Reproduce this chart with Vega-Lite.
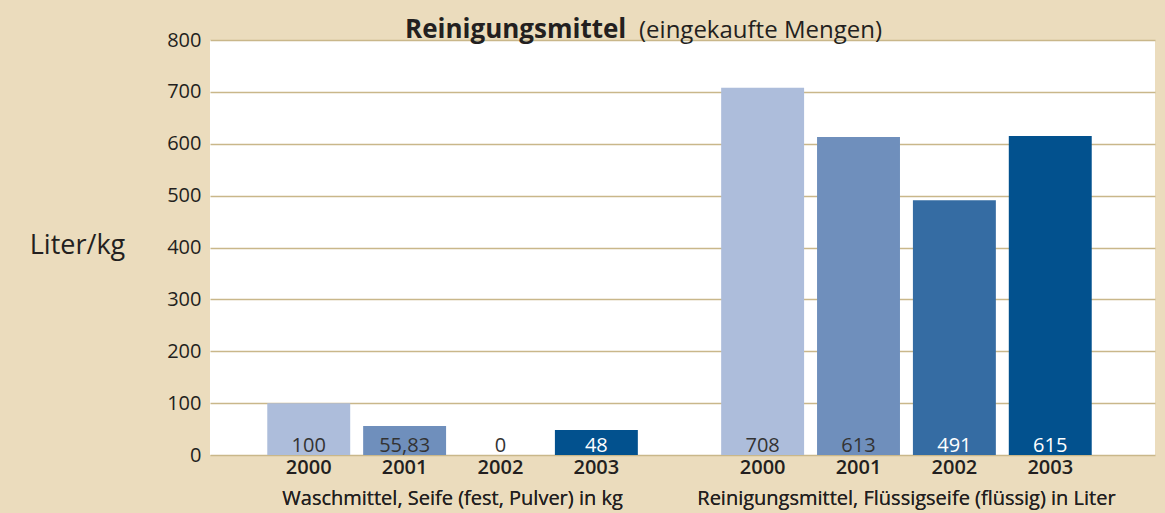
{
  "$schema": "https://vega.github.io/schema/vega-lite/v6.json",
  "width": 945,
  "height": 415,
  "autosize": {"type": "none"},
  "padding": {"left": 210, "top": 40, "right": 10, "bottom": 58},
  "background": "#ebdcbd",
  "title": {
    "text": "Reinigungsmittel",
    "anchor": "start",
    "frame": "group",
    "dx": 195,
    "font": "Open Sans",
    "fontSize": 26,
    "fontWeight": "bold",
    "color": "#231f20",
    "baseline": "alphabetic",
    "offset": -46
  },
  "data": {
    "values": [
      {"group": "Waschmittel, Seife (fest, Pulver) in kg", "year": 2000, "value": 100},
      {"group": "Waschmittel, Seife (fest, Pulver) in kg", "year": 2001, "value": 55.83},
      {"group": "Waschmittel, Seife (fest, Pulver) in kg", "year": 2002, "value": 0},
      {"group": "Waschmittel, Seife (fest, Pulver) in kg", "year": 2003, "value": 48},
      {"group": "Reinigungsmittel, Flüssigseife (flüssig) in Liter", "year": 2000, "value": 708},
      {"group": "Reinigungsmittel, Flüssigseife (flüssig) in Liter", "year": 2001, "value": 613},
      {"group": "Reinigungsmittel, Flüssigseife (flüssig) in Liter", "year": 2002, "value": 491},
      {"group": "Reinigungsmittel, Flüssigseife (flüssig) in Liter", "year": 2003, "value": 615}
    ]
  },
  "encoding": {
    "x": {
      "field": "group",
      "type": "nominal",
      "sort": ["Waschmittel, Seife (fest, Pulver) in kg", "Reinigungsmittel, Flüssigseife (flüssig) in Liter"],
      "scale": {"paddingInner": 0.154, "paddingOuter": 0.118, "align": 0.472},
      "axis": {
        "orient": "bottom",
        "title": null,
        "labelAngle": 0,
        "labelFont": "Open Sans",
        "labelFontSize": 20,
        "labelFontWeight": "normal",
        "labelColor": "#231f20",
        "labelPadding": 33,
        "labelBaseline": "top",
        "labelLimit": 0,
        "ticks": false,
        "domain": false,
        "grid": false
      }
    },
    "xOffset": {
      "field": "year",
      "type": "ordinal",
      "scale": {"paddingInner": 0.135, "paddingOuter": 0.07}
    }
  },
  "layer": [
    {
      "mark": {"type": "bar"},
      "encoding": {
        "y": {
          "field": "value",
          "type": "quantitative",
          "scale": {"domain": [0, 800]},
          "axis": {
            "title": "Liter/kg",
            "values": [0, 100, 200, 300, 400, 500, 600, 700, 800]
          }
        },
        "color": {
          "field": "year",
          "type": "ordinal",
          "scale": {"domain": [2000, 2001, 2002, 2003], "range": ["#adbddb", "#6f8fbc", "#356ca3", "#02518e"]},
          "legend": null
        }
      }
    },
    {
      "mark": {"type": "text", "baseline": "alphabetic", "dy": -3, "font": "Open Sans", "fontSize": 20},
      "encoding": {
        "y": {"datum": 0, "type": "quantitative"},
        "text": {"field": "value", "type": "quantitative", "format": "~g"},
        "color": {
          "condition": {"test": "datum.year >= 2002 && datum.value > 0", "value": "#ffffff"},
          "value": "#333333"
        }
      }
    },
    {
      "mark": {"type": "text", "baseline": "top", "dy": 3, "font": "Open Sans", "fontSize": 20, "fontWeight": 600, "color": "#231f20"},
      "encoding": {
        "x": {
          "field": "group",
          "type": "nominal",
          "sort": ["Waschmittel, Seife (fest, Pulver) in kg", "Reinigungsmittel, Flüssigseife (flüssig) in Liter"],
          "axis": {
            "orient": "top",
            "title": "(eingekaufte Mengen)",
            "titleFont": "Open Sans",
            "titleFontSize": 24,
            "titleFontWeight": "normal",
            "titleColor": "#231f20",
            "titleAlign": "center",
            "titleBaseline": "alphabetic",
            "titleX": 550,
            "titleY": -3,
            "labels": false,
            "ticks": false,
            "domain": false,
            "grid": false
          }
        },
        "y": {"datum": 0, "type": "quantitative"},
        "text": {"field": "year", "type": "nominal"}
      }
    }
  ],
  "config": {
    "view": {"fill": "#ffffff", "stroke": null},
    "axisY": {
      "titleAngle": 0,
      "titleFont": "Open Sans",
      "titleFontSize": 27,
      "titleFontWeight": "normal",
      "titleColor": "#231f20",
      "titleAlign": "center",
      "titleBaseline": "middle",
      "titleX": -133,
      "titleY": 205,
      "labelFont": "Open Sans",
      "labelFontSize": 20,
      "labelColor": "#231f20",
      "labelPadding": 9,
      "ticks": false,
      "domain": false,
      "grid": true,
      "gridColor": "#c9b78a",
      "gridWidth": 1.5
    },
    "locale": {"number": {"decimal": ",", "thousands": ".", "grouping": [3], "currency": ["", " €"]}}
  }
}
